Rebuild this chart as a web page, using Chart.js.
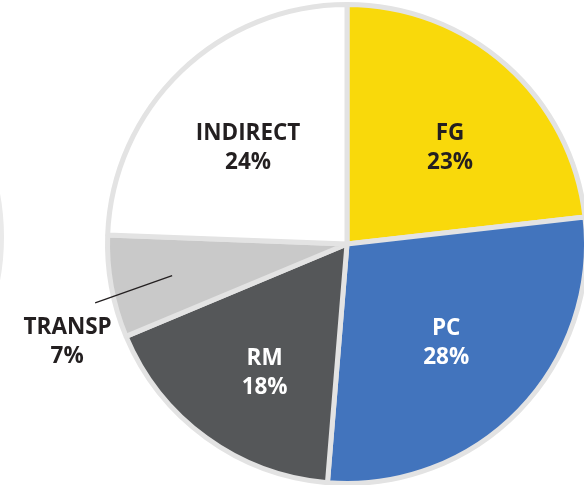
<!DOCTYPE html>
<html>
<head>
<meta charset="utf-8">
<script src="https://cdn.jsdelivr.net/npm/chart.js@4"></script>
<style>
  html, body { margin: 0; padding: 0; background: #ffffff; overflow: hidden; }
  #wrap { position: relative; width: 584px; height: 485px; overflow: hidden; background: #fff; }
  #main { position: absolute; left: 0; top: 0; }
  #ghost { position: absolute; left: -478px; top: -3px; }
</style>
</head>
<body>
<div id="wrap">
  <canvas id="ghost" width="484" height="480"></canvas>
  <canvas id="main" width="600" height="490"></canvas>
</div>
<script>
// ---- data ----
const categories = ['FG', 'PC', 'RM', 'TRANSP', 'INDIRECT'];
const shares = [23.2, 28.1, 17.4, 6.9, 24.4];          // slice sizes as drawn
const percentLabels = ['23%', '28%', '18%', '7%', '24%'];
const sliceColors = ['#F9D90B', '#4274BD', '#555759', '#C9C9C9', '#FFFFFF'];
const labelColors = ['#231F20', '#FFFFFF', '#FFFFFF', '#231F20', '#231F20'];
const ghostValues = [1];

// label placement style (polar nudges relative to each slice's middle)
const labelStyle = {
  font: 'bold 22.5px "Open Sans", "Liberation Sans", sans-serif',
  lineGap: 29,
  radial: [0.588, 0.585, 0.641, 0.742, 0.576],
  outerRadial: 1.08,
  angleShiftDeg: [5.25, 0.85, -3.55, 0, -1.9]
};

const labelPlugin = {
  id: 'sliceLabels',
  afterDatasetsDraw(chart) {
    const ctx = chart.ctx;
    const meta = chart.getDatasetMeta(0);
    const G = labelStyle.lineGap;
    ctx.save();
    ctx.font = labelStyle.font;
    ctx.textAlign = 'center';
    ctx.textBaseline = 'middle';
    meta.data.forEach((arc, i) => {
      const p = arc.getProps(['x', 'y', 'startAngle', 'endAngle', 'outerRadius'], true);
      const mid = (p.startAngle + p.endAngle) / 2 + labelStyle.angleShiftDeg[i] * Math.PI / 180;
      const R = p.outerRadius;
      const k = labelStyle.radial[i];
      if (shares[i] < 10) {
        const ix = p.x + Math.cos(mid) * R * k;
        const iy = p.y + Math.sin(mid) * R * k;
        const a2 = mid - 2.9 * Math.PI / 180;
        const ox = p.x + Math.cos(a2) * R * labelStyle.outerRadial;
        const oy = p.y + Math.sin(a2) * R * labelStyle.outerRadial;
        ctx.strokeStyle = '#231F20';
        ctx.lineWidth = 1.3;
        ctx.beginPath();
        ctx.moveTo(ix, iy);
        ctx.lineTo(ox, oy);
        ctx.stroke();
        ctx.fillStyle = labelColors[i];
        ctx.fillText(categories[i], ox - 27.5, oy + 24.5);
        ctx.fillText(percentLabels[i], ox - 28, oy + 24.5 + G);
      } else {
        const cx = p.x + Math.cos(mid) * R * k;
        const cy = p.y + Math.sin(mid) * R * k;
        ctx.fillStyle = labelColors[i];
        ctx.fillText(categories[i], cx, cy - G / 2);
        ctx.fillText(percentLabels[i], cx, cy + G / 2);
      }
    });
    ctx.restore();
  }
};

new Chart(document.getElementById('main'), {
  type: 'pie',
  data: {
    labels: categories,
    datasets: [{
      data: shares,
      backgroundColor: sliceColors,
      borderColor: '#E3E3E3',
      borderWidth: 5,
      hoverOffset: 0
    }]
  },
  options: {
    responsive: false,
    animation: false,
    layout: { padding: { left: 105, right: 11, top: 2, bottom: 4 } },
    plugins: { legend: { display: false }, tooltip: { enabled: false } }
  },
  plugins: [labelPlugin]
});

new Chart(document.getElementById('ghost'), {
  type: 'pie',
  data: {
    labels: ['other'],
    datasets: [{
      data: ghostValues,
      backgroundColor: ['#FFFFFF'],
      borderColor: '#EAEAEA',
      borderWidth: 5
    }]
  },
  options: {
    responsive: false,
    animation: false,
    layout: { padding: 0 },
    plugins: { legend: { display: false }, tooltip: { enabled: false } }
  }
});
</script>
</body>
</html>
